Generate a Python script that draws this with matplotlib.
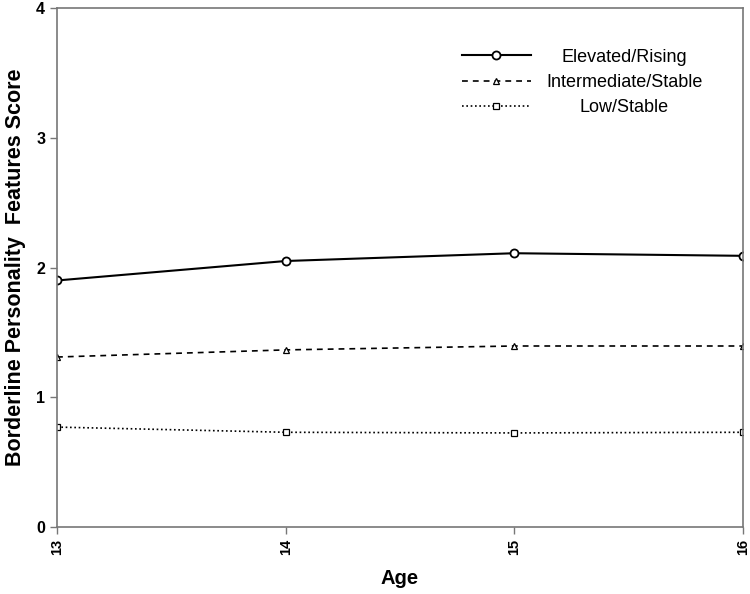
import matplotlib
matplotlib.use("Agg")
import matplotlib.pyplot as plt

plt.rcParams["font.family"] = ["Liberation Sans", "DejaVu Sans"]

ages = [13, 14, 15, 16]
elevated = [1.90, 2.05, 2.11, 2.09]
intermediate = [1.31, 1.365, 1.395, 1.395]
low = [0.77, 0.73, 0.725, 0.73]
y_ticks = [0, 1, 2, 3, 4]

W, H = 750, 594
fig = plt.figure(figsize=(7.5, 5.94), dpi=100)
ax = fig.add_axes([57 / W, 1 - 527 / H, 686 / W, 519 / H])

ax.plot(ages, elevated, color="black", lw=1.5, marker="o", ms=5.8,
        mfc="white", mec="black", mew=1.3, label="Elevated/Rising")
ax.plot(ages, intermediate, color="black", lw=1.2, ls=(0, (3.5, 3)), marker="^", ms=4,
        mfc="white", mec="black", mew=0.9, label="Intermediate/Stable")
ax.plot(ages, low, color="black", lw=1.2, ls=(0, (1, 1.6)), marker="s", ms=4.6,
        mfc="white", mec="black", mew=0.9, label="Low/Stable")

ax.set_xlim(13, 16)
ax.set_ylim(0, 4)
ax.set_xticks(ages)
ax.set_xticklabels([str(a) for a in ages], rotation=90, fontweight="bold", fontsize=10.5)
ax.set_yticks(y_ticks)
ax.set_yticklabels([str(t) for t in y_ticks], fontweight="bold", fontsize=11.5)
ax.tick_params(direction="out", length=5, color="#777777", width=1)

for s in ax.spines.values():
    s.set_color("#777777")
    s.set_linewidth(1.2)

ax.set_xlabel("Age", fontsize=14.5, fontweight="bold")
ax.xaxis.set_label_coords(0.5, -(578 - 527) / 519, transform=ax.transAxes)
ax.xaxis.label.set_va("center")
ax.set_ylabel("Borderline Personality  Features Score", fontsize=15.5, fontweight="bold")
ax.yaxis.set_label_coords(-(57 - 16) / 686, 0.5, transform=ax.transAxes)
ax.yaxis.label.set_va("center")

leg = ax.legend(loc="upper left", bbox_to_anchor=(462 / W, 1 - 48.5 / H),
                bbox_transform=fig.transFigure, frameon=False, borderpad=0,
                borderaxespad=0, fontsize=13, handlelength=3.8, handletextpad=0.85,
                labelspacing=0.47)

# center the legend labels on one another like the original
fig.canvas.draw()
r = fig.canvas.get_renderer()
widths = [t.get_window_extent(r).width for t in leg.get_texts()]
wmax = max(widths)
for t, w in zip(leg.get_texts(), widths):
    t.set_position(((wmax - w) / 2, 0))

fig.savefig("out.png", dpi=100)
